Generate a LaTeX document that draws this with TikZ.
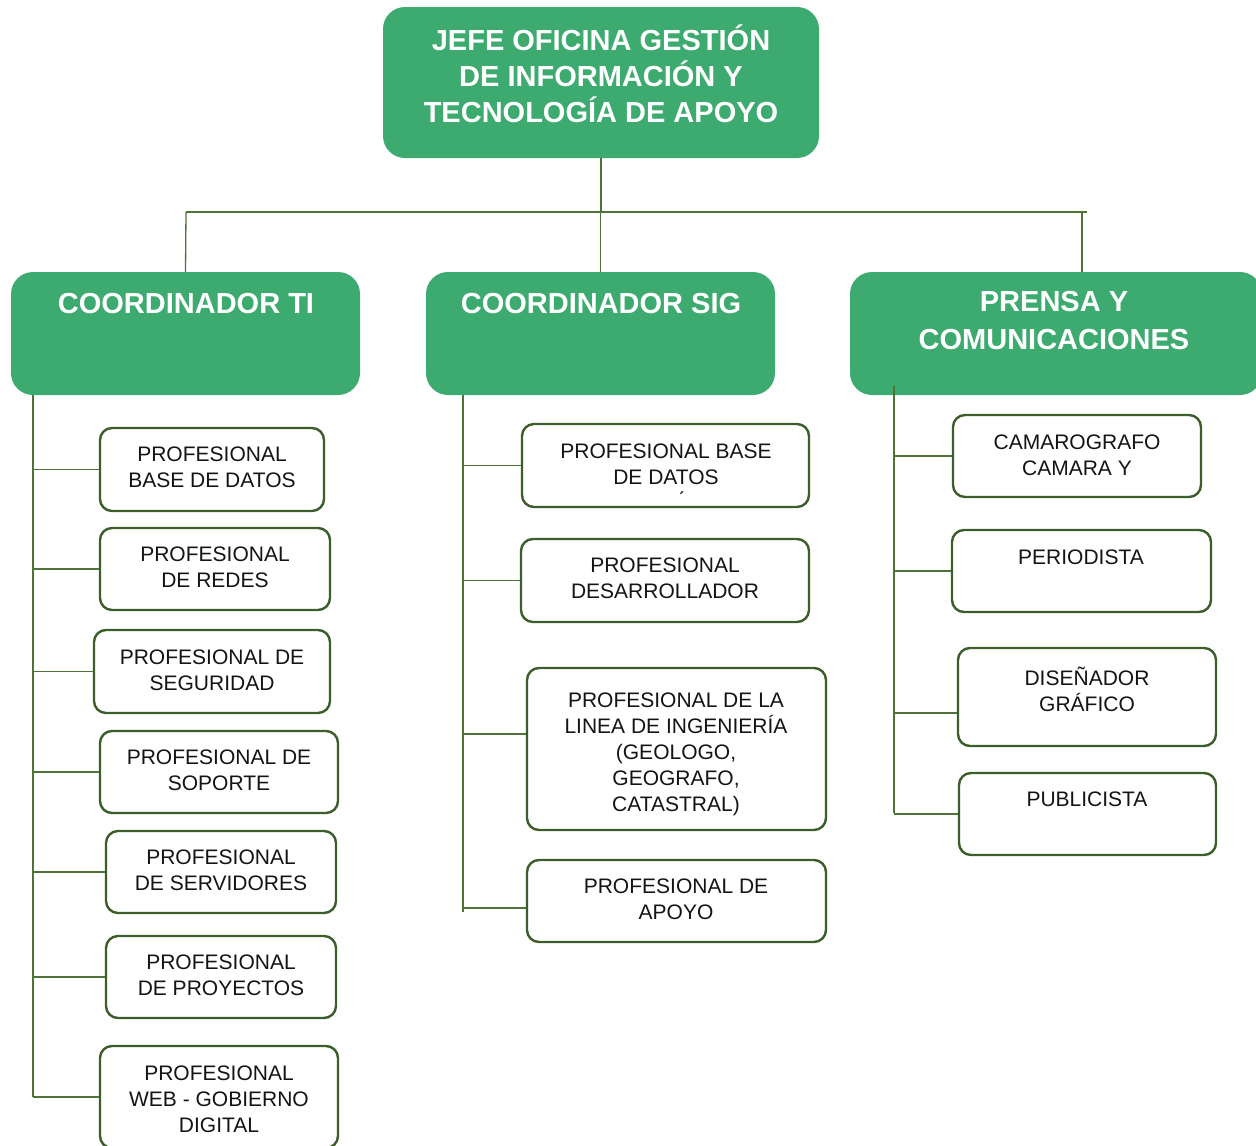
\documentclass[tikz,border=0pt]{standalone}
\usepackage{fontspec}
\setmainfont{Liberation Sans}
\definecolor{ogreen}{HTML}{3DAA6F}
\definecolor{odark}{HTML}{3B5E2B}
\definecolor{oline}{HTML}{4E7237}
\definecolor{otext}{HTML}{141414}
\begin{document}
\begin{tikzpicture}[x=1pt,y=-1pt,
  boss/.style={fill=ogreen,draw=none,rounded corners=22pt,inner sep=0pt},
  leaf/.style={fill=white,draw=odark,line width=2.4pt,rounded corners=12pt,inner sep=0pt},
  conn/.style={draw=oline,line width=1.3pt},
  btxt/.style={text=white,font=\fontsize{29}{36}\selectfont\bfseries,align=center,inner sep=0pt},
  ltxt/.style={text=otext,font=\fontsize{21}{26}\selectfont,align=center,inner sep=0pt}]
\useasboundingbox (0,0) rectangle (1256,1146);
% box from its corners: name, x1, y1, x2, y2, style
\newcommand\orgbox[6]{%
  \node[#6,minimum width={(#4-#2)*1pt},minimum height={(#5-#3)*1pt}]
    (#1) at ({(#2+#4)/2},{(#3+#5)/2}) {};}

% head of office
\orgbox{jefe}{383}{7}{819}{158}{boss}
\node[btxt] (jefet) at (601,74) {JEFE OFICINA GESTIÓN\\DE INFORMACIÓN Y\\TECNOLOGÍA DE APOYO};

% coordinators
\orgbox{ti}{11}{272}{360}{395}{boss}
\node[btxt] (tit) at (186,304) {COORDINADOR TI};
\orgbox{sig}{426}{272}{775}{395}{boss}
\node[btxt] (sigt) at (601,304) {COORDINADOR SIG};
\orgbox{pr}{850}{272}{1262}{395}{boss}
\node[btxt,font=\fontsize{29}{38}\selectfont\bfseries] (prt) at (1054,321) {PRENSA Y\\COMUNICACIONES};

% TI staff
\orgbox{t1}{100}{428}{324}{511}{leaf}
\node[ltxt] at (212,467.5) {PROFESIONAL\\BASE DE DATOS};
\orgbox{t2}{100}{528}{330}{610}{leaf}
\node[ltxt] at (215,567.5) {PROFESIONAL\\DE REDES};
\orgbox{t3}{94}{630}{330}{713}{leaf}
\node[ltxt] at (212,670) {PROFESIONAL DE\\SEGURIDAD};
\orgbox{t4}{100}{731}{338}{813}{leaf}
\node[ltxt] at (219,770) {PROFESIONAL DE\\SOPORTE};
\orgbox{t5}{106}{831}{336}{913}{leaf}
\node[ltxt] at (221,870) {PROFESIONAL\\DE SERVIDORES};
\orgbox{t6}{106}{936}{336}{1018}{leaf}
\node[ltxt] at (221,975) {PROFESIONAL\\DE PROYECTOS};
\orgbox{t7}{100}{1046}{338}{1148}{leaf}
\node[ltxt] at (219,1099.5) {PROFESIONAL\\WEB - GOBIERNO\\DIGITAL};

% SIG staff
\orgbox{s1}{522}{424}{809}{507}{leaf}
\node[ltxt] at (666,464) {PROFESIONAL BASE\\DE DATOS};
\node[ltxt] at (681,501) {\'{}};
\orgbox{s2}{521}{539}{809}{622}{leaf}
\node[ltxt] at (665,578.5) {PROFESIONAL\\DESARROLLADOR};
\orgbox{s3}{527}{668}{826}{830}{leaf}
\node[ltxt] at (676,754) {PROFESIONAL DE LA\\LINEA DE INGENIERÍA\\(GEOLOGO,\\GEOGRAFO,\\CATASTRAL)};
\orgbox{s4}{527}{860}{826}{942}{leaf}
\node[ltxt] at (676,899) {PROFESIONAL DE\\APOYO};

% press staff
\orgbox{p1}{953}{415}{1201}{497}{leaf}
\node[ltxt] at (1077,455) {CAMAROGRAFO\\CAMARA Y};
\orgbox{p2}{952}{530}{1211}{612}{leaf}
\node[ltxt] at (1081,557) {PERIODISTA};
\orgbox{p3}{958}{648}{1216}{746}{leaf}
\node[ltxt] at (1087,689) {DISEÑADOR\\GRÁFICO};
\orgbox{p4}{959}{773}{1216}{855}{leaf}
\node[ltxt] at (1087,799) {PUBLICISTA};

% top-level bus
\coordinate (busL) at (186,212);
\coordinate (busR) at (1087,212);
\coordinate (busP) at (1082,212);
\draw[conn] (jefe.south) -- (jefe.south |- busL);
\draw[conn] (busL) -- (busR);
\draw[conn] (busL) -- (ti.north);
\draw[conn] (sig.north |- busL) -- (sig.north);
\draw[conn] (busP) -- (busP |- pr.north);

% spines
\coordinate (tiend) at (33,1097);
\coordinate (sigend) at (463,912);
\coordinate (prtop) at (894,386);
\coordinate (prend) at (894,813);
\draw[conn] (ti.south -| tiend) -- (tiend);
\draw[conn] (sig.south -| sigend) -- (sigend);
\draw[conn] (prtop) -- (prend);

% branches
\foreach \b in {t1,t2,t3,t4,t5,t6,t7}
  \draw[conn] (\b.west -| tiend) -- (\b.west);
\draw[conn] (s1.west -| sigend) -- (s1.west);
\draw[conn] (s2.west -| sigend) -- (s2.west);
\draw[conn] ([yshift=15pt]s3.west -| sigend) -- ([yshift=15pt]s3.west);
\draw[conn] ([yshift=-7pt]s4.west -| sigend) -- ([yshift=-7pt]s4.west);
\draw[conn] (p1.west -| prend) -- (p1.west);
\draw[conn] (p2.west -| prend) -- (p2.west);
\draw[conn] ([yshift=-16pt]p3.west -| prend) -- ([yshift=-16pt]p3.west);
\draw[conn] (p4.west -| prend) -- (p4.west);
\end{tikzpicture}
\end{document}
